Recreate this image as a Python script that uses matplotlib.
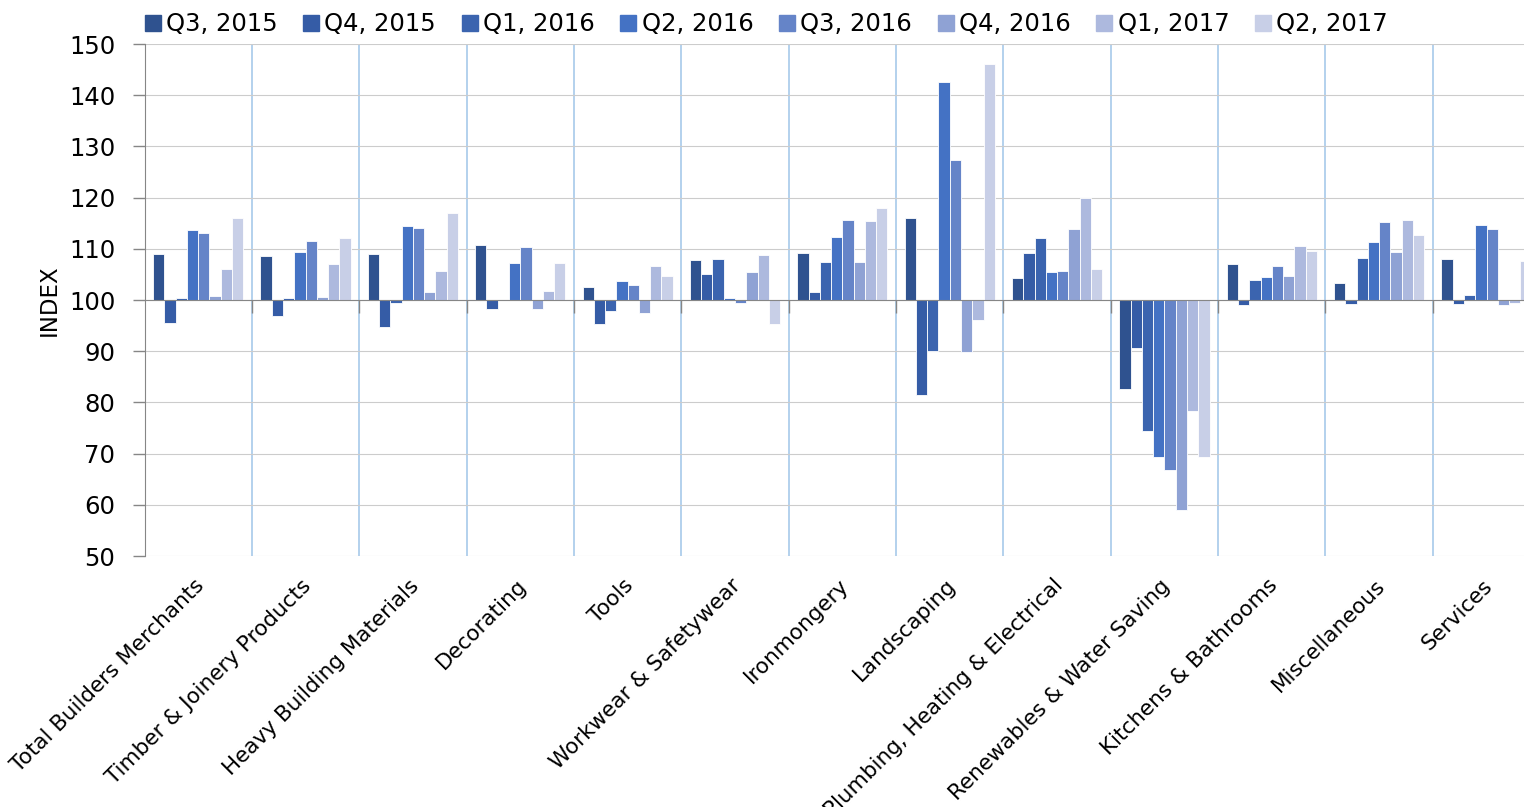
import numpy as np
import matplotlib
matplotlib.use("Agg")
import matplotlib.pyplot as plt
from matplotlib.lines import Line2D

plt.rcParams["font.family"] = ["DejaVu Sans"]

categories = [
    "Total Builders Merchants", "Timber & Joinery Products", "Heavy Building Materials",
    "Decorating", "Tools", "Workwear & Safetywear", "Ironmongery", "Landscaping",
    "Plumbing, Heating & Electrical", "Renewables & Water Saving", "Kitchens & Bathrooms",
    "Miscellaneous", "Services",
]
series_names = ["Q3, 2015", "Q4, 2015", "Q1, 2016", "Q2, 2016",
                "Q3, 2016", "Q4, 2016", "Q1, 2017", "Q2, 2017"]

q3_2015 = [109.0, 108.6, 109.0, 110.7, 102.6, 107.9, 109.1, 116.1, 104.2, 82.7, 107.0, 103.4, 108.0]
q4_2015 = [95.6, 96.9, 94.8, 98.3, 95.4, 105.0, 101.6, 81.4, 109.2, 90.7, 99.0, 99.2, 99.2]
q1_2016 = [100.3, 100.3, 99.5, 100.0, 97.9, 108.1, 107.5, 90.0, 112.2, 74.5, 104.0, 108.2, 101.0]
q2_2016 = [113.7, 109.4, 114.4, 107.2, 103.8, 100.3, 112.4, 142.5, 105.5, 69.4, 104.4, 111.4, 114.7]
q3_2016 = [113.1, 111.6, 114.0, 110.3, 103.0, 99.5, 115.7, 127.3, 105.7, 66.8, 106.6, 115.2, 113.9]
q4_2016 = [100.8, 100.6, 101.5, 98.2, 97.4, 105.4, 107.4, 89.8, 113.9, 58.9, 104.6, 109.4, 99.0]
q1_2017 = [106.0, 107.0, 105.6, 101.8, 106.6, 108.7, 115.4, 96.1, 120.0, 78.3, 110.5, 115.6, 99.4]
q2_2017 = [116.0, 112.2, 117.0, 107.2, 104.6, 95.4, 117.9, 146.0, 106.0, 69.4, 109.6, 112.6, 107.6]

colors = ["#2F528F", "#355CA6", "#3B64AF", "#4472C4",
          "#6584C8", "#8FA2D4", "#ADB9DE", "#C8CFE7"]


def main():
    series = [q3_2015, q4_2015, q1_2016, q2_2016, q3_2016, q4_2016, q1_2017, q2_2017]
    base = 100
    x = np.arange(len(categories))
    n = len(series)
    bar_w = 0.105

    fig = plt.figure(figsize=(15.24, 8.07), dpi=100)
    ax = fig.add_axes([144.5 / 1524, 1 - 556 / 807, 1395.7 / 1524, 512 / 807])

    for i, (vals, col) in enumerate(zip(series, colors)):
        vals = np.array(vals)
        offs = (i - (n - 1) / 2) * bar_w
        ax.bar(x + offs, vals - base, bottom=base, width=bar_w, color=col,
               edgecolor="white", linewidth=0.6, zorder=3)

    ax.set_xlim(-0.5, len(categories) - 0.5)
    ax.set_ylim(50, 150)
    ax.set_yticks(range(50, 151, 10))
    ax.grid(axis="y", color="#cccccc", linewidth=0.8, zorder=0)

    # category separators
    bounds = np.arange(0.5, len(categories) - 0.5, 1)
    ax.set_xticks(bounds)
    ax.set_xticklabels([])
    ax.grid(axis="x", color="#A7CAEA", linewidth=1.2, zorder=0)
    ax.tick_params(axis="x", length=9, color="#868686", width=1)
    ax.tick_params(axis="y", length=9, color="#868686", width=1, labelsize=17.5, pad=12)

    for s in ["top", "right"]:
        ax.spines[s].set_visible(False)
    ax.spines["left"].set_color("#868686")
    ax.spines["bottom"].set_color("#868686")
    ax.spines["bottom"].set_position(("data", base))
    ax.spines["bottom"].set_zorder(4)

    sec = ax.secondary_xaxis(0)
    sec.set_xticks(x - 0.04)
    sec.set_xticklabels(categories, rotation=45, ha="right", rotation_mode="anchor",
                        fontsize=15.5)
    sec.tick_params(length=0, pad=14)
    sec.spines["bottom"].set_visible(False)

    ax.set_ylabel("INDEX", fontsize=16.5, labelpad=6)

    handles = [Line2D([], [], marker="s", linestyle="none", markersize=12,
                      markerfacecolor=c, markeredgecolor=c) for c in colors]
    fig.legend(handles, series_names, loc="upper left", bbox_to_anchor=(121 / 1524, 1.012),
               ncol=8, frameon=False, fontsize=17.5, handlelength=0.8,
               handletextpad=0.15, columnspacing=0.98)

    fig.savefig("out.png", dpi=100)
    plt.close(fig)


if __name__ == "__main__":
    main()
